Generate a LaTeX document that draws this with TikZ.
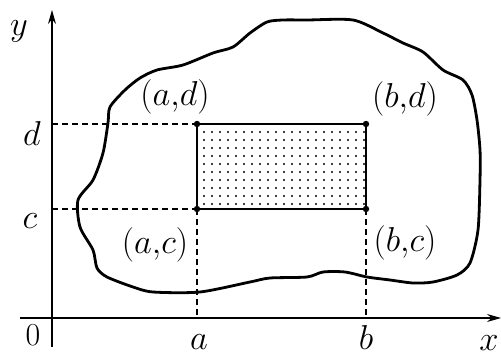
\documentclass[tikz,border=0pt]{standalone}
\usetikzlibrary{arrows.meta}
\begin{document}
\begin{tikzpicture}[x=0.5pt,y=-0.5pt,
  axis/.style={line width=0.6pt,-{Stealth[length=7pt,width=4pt]}},
  guide/.style={line width=0.6pt,dash pattern=on 3pt off 2pt},
  blob/.style={line width=1.4pt},
  edge/.style={line width=0.6pt},
  pt/.style={circle,fill,inner sep=0pt,minimum size=3.2pt},
  lab/.style={font=\fontsize{16}{18}\selectfont,inner sep=0pt}]
\useasboundingbox (0,0) rectangle (501,356);
% dotted fill
\foreach \i in {0,...,20}{
  \foreach \j in {0,...,9}{
    \fill ({204+8*\i},{132+8*\j}) circle (0.6pt);
  }
}
% corners
\node[pt] (ad) at (197,124) {};
\node[pt] (bd) at (366,124) {};
\node[pt] (ac) at (197,209) {};
\node[pt] (bc) at (366,209) {};
\coordinate (ya) at (52,124);
\coordinate (yc) at (52,209);
\coordinate (xa) at (197,318);
\coordinate (xb) at (366,318);
% axes
\coordinate (ybot) at (52,347);
\coordinate (ytop) at (52,10);
\coordinate (xleft) at (20,318);
\coordinate (xright) at (501,318);
\draw[axis] (ybot) -- (ytop);
\draw[axis] (xleft) -- (xright);
% rectangle
\draw[edge] (ad.center) -- (bd.center) -- (bc.center) -- (ac.center) -- cycle;
% guides
\draw[guide] (ya) -- (ad.center);
\draw[guide] (yc) -- (ac.center);
\draw[guide] (ac.center) -- (xa);
\draw[guide] (bc.center) -- (xb);
% blob
\draw[blob] plot[smooth cycle,tension=0.45] coordinates {
(110,107) (125,90) (140,78) (157,70) (183,65) (213,53) (233,47) (250,33)
(267,22) (283,20) (307,20) (353,20) (383,33) (403,43) (423,52) (443,70)
(463,80) (472,95) (477,120) (480,150) (480,180) (478,230) (470,263)
(457,275) (433,282) (413,283) (390,280) (367,277) (345,272) (323,272)
(307,277) (270,278) (250,282) (200,292) (153,292) (133,287) (107,277)
(97,268) (93,250) (80,227) (78,200) (93,180) (103,153) (108,123)};
% labels
\node[lab] (ly) at (19,31) {$y$};
\node[lab] (ld) at (32,134) {$d$};
\node[lab] (lc) at (30,221) {$c$};
\node[lab] (lo) at (33,335) {0};
\node[lab,anchor=base] (la) at (199,350) {$a$};
\node[lab,anchor=base] (lb) at (366,350) {$b$};
\node[lab] (lx) at (489,343) {$x$};
\node[lab] (lad) at (175,97) {$(a{,}d)$};
\node[lab] (lbd) at (405,99) {$(b{,}d)$};
\node[lab] (lac) at (155,245) {$(a{,}c)$};
\node[lab] (lbc) at (405,243) {$(b{,}c)$};
\end{tikzpicture}
\end{document}
